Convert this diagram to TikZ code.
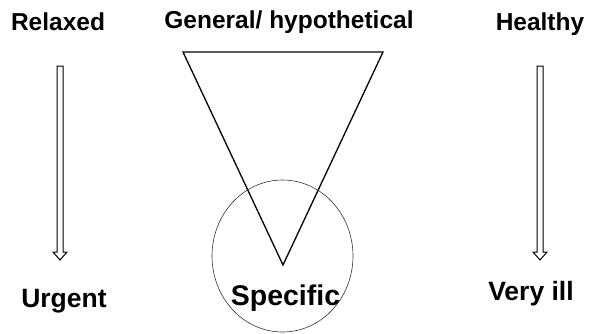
\documentclass[tikz,border=0pt]{standalone}
\usepackage{fontspec}
\setmainfont{Liberation Sans}
\usetikzlibrary{shapes.geometric}
\begin{document}
\begin{tikzpicture}[x=1pt,y=-1pt,
  lbl/.style={font=\fontsize{24.5}{27}\selectfont\bfseries, inner sep=0pt, anchor=base},
  lblb/.style={font=\fontsize{26.5}{29}\selectfont\bfseries, inner sep=0pt, anchor=base},
  lbls/.style={font=\fontsize{28.5}{31}\selectfont\bfseries, inner sep=0pt, anchor=base},
  blockarrow/.style={draw=black, line width=1pt, fill=white, line join=miter},
  tri/.style={draw=black, line width=1.3pt, line join=miter},
  ring/.style={draw=black!80, line width=0.6pt}]
\useasboundingbox (0,0) rectangle (605,333);
% labels
\node[lbl] (relaxed) at (58,30) {Relaxed};
\node[lbl] (general) at (289,28) {General/ hypothetical};
\node[lbl] (healthy) at (540,30) {Healthy};
\node[lblb] (urgent) at (64,307) {Urgent};
\node[lbls] (specific) at (285.5,305) {Specific};
\node[lblb] (veryill) at (531,300) {Very ill};
% triangle
\coordinate (tl) at (183,52);
\coordinate (tr) at (383,52);
\coordinate (tb) at (283,265);
\draw[tri] (tl) -- (tr) -- (tb) -- cycle;
% ellipse
\node[ring, ellipse, minimum width=141pt, minimum height=152pt, inner sep=0pt] (circ) at (282.5,256) {};
% left block arrow
\draw[blockarrow] (57,66) -- (63,66) -- (63,252) -- (67,252) -- (60,260) -- (53,252) -- (57,252) -- cycle;
% right block arrow
\draw[blockarrow] (537,66) -- (543,66) -- (543,252) -- (547,252) -- (540,260) -- (533,252) -- (537,252) -- cycle;
\end{tikzpicture}
\end{document}
